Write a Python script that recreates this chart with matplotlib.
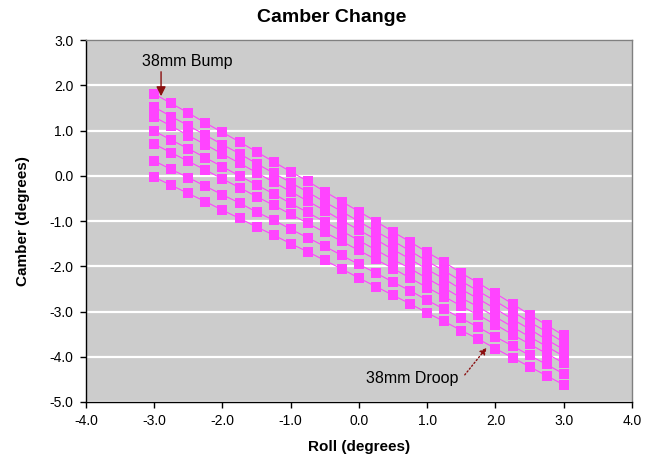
import numpy as np
import matplotlib
matplotlib.use("Agg")
import matplotlib.pyplot as plt

plt.rcParams['font.family'] = ['Liberation Sans', 'DejaVu Sans']

# roll angle (degrees)
roll = [-3.0, -2.75, -2.5, -2.25, -2.0, -1.75, -1.5, -1.25, -1.0, -0.75, -0.5, -0.25,
        0.0, 0.25, 0.5, 0.75, 1.0, 1.25, 1.5, 1.75, 2.0, 2.25, 2.5, 2.75, 3.0]

# camber (degrees), one list per wheel travel position, 38 mm bump -> 38 mm droop
camber_bump38 = [1.81, 1.60, 1.39, 1.17, 0.96, 0.75, 0.53, 0.31, 0.09, -0.12, -0.35, -0.57, -0.79,
                 -1.01, -1.24, -1.46, -1.69, -1.91, -2.15, -2.37, -2.60, -2.83, -3.07, -3.30, -3.53]
camber_bump25 = [1.52, 1.31, 1.11, 0.90, 0.69, 0.49, 0.27, 0.06, -0.15, -0.36, -0.58, -0.79, -1.01,
                 -1.23, -1.44, -1.66, -1.89, -2.10, -2.33, -2.55, -2.77, -3.00, -3.23, -3.45, -3.68]
camber_bump13 = [1.30, 1.10, 0.89, 0.69, 0.48, 0.28, 0.07, -0.14, -0.35, -0.56, -0.77, -0.99, -1.20,
                 -1.41, -1.63, -1.84, -2.07, -2.28, -2.51, -2.72, -2.94, -3.17, -3.39, -3.62, -3.84]
camber_static = [0.99, 0.79, 0.60, 0.40, 0.20, 0.00, -0.20, -0.40, -0.61, -0.81, -1.02, -1.22, -1.43,
                 -1.64, -1.85, -2.05, -2.27, -2.48, -2.70, -2.90, -3.12, -3.34, -3.56, -3.77, -3.99]
camber_droop13 = [0.70, 0.51, 0.32, 0.13, -0.07, -0.26, -0.46, -0.65, -0.85, -1.05, -1.25, -1.45, -1.65,
                  -1.85, -2.05, -2.26, -2.47, -2.67, -2.88, -3.08, -3.29, -3.51, -3.72, -3.93, -4.14]
camber_droop25 = [0.33, 0.14, -0.04, -0.23, -0.42, -0.60, -0.80, -0.98, -1.18, -1.37, -1.56, -1.76, -1.96,
                  -2.15, -2.35, -2.54, -2.75, -2.95, -3.15, -3.35, -3.56, -3.76, -3.97, -4.17, -4.38]
camber_droop38 = [-0.03, -0.21, -0.39, -0.57, -0.76, -0.94, -1.13, -1.31, -1.50, -1.68, -1.87, -2.06, -2.26,
                  -2.45, -2.64, -2.83, -3.03, -3.22, -3.42, -3.61, -3.82, -4.02, -4.22, -4.42, -4.62]

all_series = [camber_bump38, camber_bump25, camber_bump13, camber_static,
              camber_droop13, camber_droop25, camber_droop38]

fig = plt.figure(figsize=(6.63, 4.61), dpi=100)
ax = fig.add_axes([0.1297, 0.128, 0.8235, 0.785])
ax.set_facecolor('#cccccc')

for s in all_series:
    ax.plot(roll, s, color='#ff44ff', linewidth=0.8, marker='s', markersize=6.5,
            markeredgewidth=0, zorder=3)

ax.set_xlim(-4, 4)
ax.set_ylim(-5, 3)
ax.set_xticks(np.arange(-4, 4.1, 1.0))
ax.set_yticks(np.arange(-5, 3.1, 1.0))
ax.xaxis.set_major_formatter(plt.FormatStrFormatter('%.1f'))
ax.yaxis.set_major_formatter(plt.FormatStrFormatter('%.1f'))
ax.yaxis.grid(True, color='white', linewidth=1.6)
ax.set_axisbelow(True)
ax.tick_params(direction='out', length=4, width=1, labelsize=10, colors='black', pad=5)

for side in ['top', 'right']:
    ax.spines[side].set_color('#808080')
    ax.spines[side].set_linewidth(1)
for side in ['left', 'bottom']:
    ax.spines[side].set_color('black')
    ax.spines[side].set_linewidth(1)

# title is centred on the whole chart, not the plot area
fig.text(0.501, 0.962, 'Camber Change', fontsize=14, fontweight='bold', ha='center', va='center')
ax.set_xlabel('Roll (degrees)', fontsize=11, fontweight='bold', labelpad=8)
ax.set_ylabel('Camber (degrees)', fontsize=11, fontweight='bold', labelpad=14)

# bump label with straight down arrow
ax.text(-2.52, 2.52, '38mm Bump', fontsize=11.5, ha='center', va='center', zorder=5)
ax.annotate('', xy=(-2.90, 1.76), xytext=(-2.90, 2.30),
            arrowprops=dict(arrowstyle='-|>', color='#8b1010', lw=1, shrinkA=0, shrinkB=0,
                            mutation_scale=14),
            zorder=5)

# droop label with dotted arrow
ax.text(0.78, -4.47, '38mm Droop', fontsize=11.5, ha='center', va='center', zorder=5)
ax.annotate('', xy=(1.87, -3.80), xytext=(1.55, -4.40),
            arrowprops=dict(arrowstyle='-|>', color='#8b1010', lw=1, linestyle=':',
                            shrinkA=0, shrinkB=0, mutation_scale=10),
            zorder=5)

fig.savefig('out.png', dpi=100)
